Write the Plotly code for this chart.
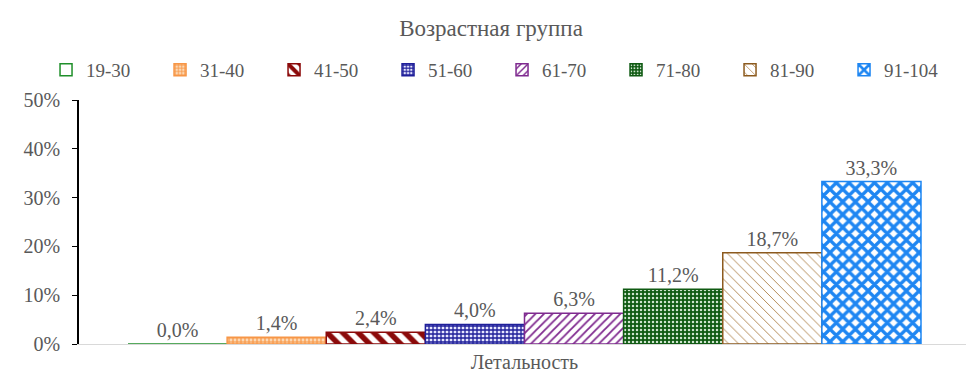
import plotly.graph_objects as go

groups = ["19-30", "31-40", "41-50", "51-60", "61-70", "71-80", "81-90", "91-104"]
values = [0.0, 1.4, 2.4, 4.0, 6.3, 11.2, 18.7, 33.3]
category = ["Летальность"]
y_ticks = [0, 10, 20, 30, 40, 50]
y_tick_text = [f"{t}%" for t in y_ticks]

line_colors = ["#1F8F2A", "#F79646", "#8B0A0A", "#1F1F9A", "#7F2A8F", "#0F5A12", "#8C5A1E", "#1E86F2"]
styles = [
    dict(color="white", pattern=None),
    dict(color="white", pattern=dict(shape="+", fgcolor="#F79646", bgcolor="#FCD9B5", size=4, solidity=0.5)),
    dict(color="white", pattern=dict(shape="\\", fgcolor="#8B0A0A", bgcolor="white", size=11, solidity=0.5)),
    dict(color="white", pattern=dict(shape="+", fgcolor="#1F1F9A", bgcolor="#E8E8FF", size=4, solidity=0.55)),
    dict(color="white", pattern=dict(shape="/", fgcolor="#7F2A8F", bgcolor="white", size=6, solidity=0.3)),
    dict(color="#0F5A12", pattern=dict(shape=".", fgcolor="#CFE5CF", bgcolor="#0F5A12", size=4, solidity=0.3, fillmode="replace")),
    dict(color="white", pattern=dict(shape="\\", fgcolor="#A8773A", bgcolor="white", size=7, solidity=0.12)),
    dict(color="white", pattern=dict(shape="x", fgcolor="#1E86F2", bgcolor="white", size=9, solidity=0.6)),
]

font_family = "Liberation Serif"
grey = "#595959"

fig = go.Figure()
for g, v, lc, st in zip(groups, values, line_colors, styles):
    marker = dict(color=st["color"], line=dict(color=lc, width=1.5))
    if st["pattern"] is not None:
        pat = dict(st["pattern"])
        pat["fgopacity"] = 1
        marker["pattern"] = pat
    fig.add_trace(go.Bar(
        name=g, x=category, y=[v], marker=marker,
        text=[f"{v:.1f}%".replace(".", ",")], textposition="outside",
        textfont=dict(family=font_family, size=20, color=grey),
        cliponaxis=False,
    ))

fig.update_layout(
    width=966, height=375,
    margin=dict(l=71, r=4, t=92, b=39, autoexpand=False),
    paper_bgcolor="white", plot_bgcolor="white",
    barmode="group", bargap=0.11, bargroupgap=0,
    font=dict(family=font_family, size=19, color=grey),
    title=dict(text="Возрастная группа", x=0.5, xanchor="center", xref="container",
               y=1 - 20 / 375, yanchor="middle", yref="container",
               font=dict(family=font_family, size=23, color=grey)),
    legend=dict(orientation="h", x=-0.037, xanchor="left", xref="paper",
                y=1 + 30 / 244, yanchor="middle", yref="paper",
                entrywidth=69, entrywidthmode="pixels", itemwidth=30,
                font=dict(family=font_family, size=19, color=grey), traceorder="normal"),
    showlegend=True,
)
fig.update_xaxes(showline=True, linecolor="#D9D9D9", linewidth=1, ticks="",
                 tickfont=dict(family=font_family, size=20, color=grey), showgrid=False)
fig.update_yaxes(range=[0, 50], tickvals=y_ticks, ticktext=y_tick_text, showline=True, linecolor="black",
                 linewidth=1.5, ticks="outside", ticklen=5, tickcolor="black", showgrid=False,
                 zeroline=False, ticklabelstandoff=8,
                 tickfont=dict(family=font_family, size=20, color=grey))

fig.write_html("out.html")
